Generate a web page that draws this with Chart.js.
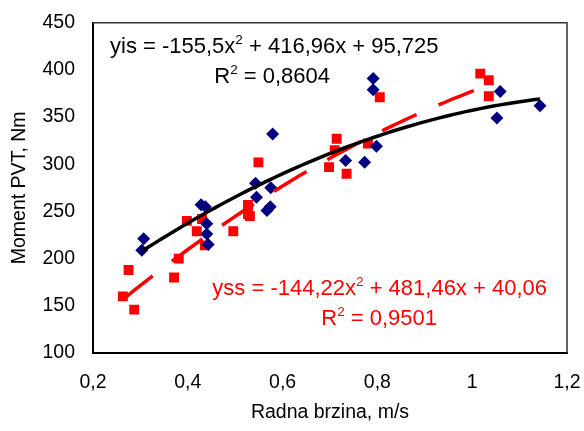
<!DOCTYPE html>
<html>
<head>
<meta charset="utf-8">
<script src="https://cdn.jsdelivr.net/npm/chart.js@4/dist/chart.umd.min.js"></script>
<style>
  html, body { margin: 0; padding: 0; background: #ffffff; }
  #wrap { width: 584px; height: 431px; }
</style>
</head>
<body>
<div id="wrap"><canvas id="chart" width="584" height="431"></canvas></div>
<script>
// ===== DATA =====
// yis - blue diamonds
var yisX = [0.307, 0.303, 0.428, 0.437, 0.440, 0.440, 0.443, 0.543, 0.545, 0.567, 0.574, 0.575, 0.579, 0.733, 0.773, 0.791, 0.791, 0.798, 1.052, 1.059, 1.143];
var yisY = [221, 209, 257, 255, 237, 226, 215, 280, 265, 251, 255, 275, 332, 304, 302, 391, 379, 319, 349, 377, 362];
// yss - red squares
var yssX = [0.263, 0.275, 0.287, 0.371, 0.381, 0.398, 0.419, 0.430, 0.436, 0.496, 0.527, 0.527, 0.531, 0.549, 0.698, 0.710, 0.714, 0.735, 0.780, 0.805, 1.017, 1.035, 1.035];
var yssY = [160, 188, 146, 180, 200, 240, 229, 242, 214, 229, 257, 247, 245, 302, 297, 315, 327, 290, 322, 371, 396, 389, 372];

// trend line coefficients (a, b, c) as printed on the chart
var yisCoef = [-155.5, 416.96, 95.725];
var yssCoef = [-144.22, 481.46, 40.06];

var xTicks = [0.2, 0.4, 0.6, 0.8, 1, 1.2];
var yTicks = [100, 150, 200, 250, 300, 350, 400, 450];

var FONT = "'Liberation Sans', Arial, sans-serif";

// ===== HELPERS =====
function toPoints(xs, ys) {
    return xs.map(function (x, i) { return { x: x, y: ys[i] }; });
}

// trend curve from the printed polynomial, between the extreme x of its series
function trendPoints(coef, xs) {
    var lo = Math.min.apply(null, xs), hi = Math.max.apply(null, xs);
    var pts = [];
    for (var i = 0; i <= 60; i++) {
        var x = lo + (hi - lo) * i / 60;
        pts.push({ x: x, y: coef[0] * x * x + coef[1] * x + coef[2] });
    }
    return pts;
}

function fmt(v) {
    return String(v).replace('.', ',');
}

// parts: [text, isSup]
function drawParts(ctx, parts, x, y, align, color) {
    var big = '22px ' + FONT, small = '13.5px ' + FONT;
    var w = 0;
    parts.forEach(function (p) {
        ctx.font = p[1] ? small : big;
        w += ctx.measureText(p[0]).width;
    });
    var cx = align === 'right' ? x - w : x;
    ctx.fillStyle = color;
    ctx.textBaseline = 'alphabetic';
    ctx.textAlign = 'left';
    parts.forEach(function (p) {
        ctx.font = p[1] ? small : big;
        ctx.fillText(p[0], cx, p[1] ? y - 9 : y);
        cx += ctx.measureText(p[0]).width;
    });
}

var labelsPlugin = {
    id: 'eqLabels',
    afterDraw: function (chart) {
        var ctx = chart.ctx;
        ctx.save();
        drawParts(ctx, [['yis = ' + fmt(yisCoef[0]) + 'x'], ['2', 1], [' + ' + fmt(yisCoef[1]) + 'x + ' + fmt(yisCoef[2])]], 110, 53, 'left', '#000000');
        drawParts(ctx, [['R'], ['2', 1], [' = 0,8604']], 330, 83, 'right', '#000000');
        drawParts(ctx, [['yss = ' + fmt(yssCoef[0]) + 'x'], ['2', 1], [' + ' + fmt(yssCoef[1]) + 'x + ' + fmt(yssCoef[2])]], 547, 295, 'right', '#ff0000');
        drawParts(ctx, [['R'], ['2', 1], [' = 0,9501']], 437, 325, 'right', '#ff0000');
        // frame on top and right
        var a = chart.chartArea;
        ctx.strokeStyle = '#333333';
        ctx.lineWidth = 1.5;
        ctx.beginPath();
        ctx.moveTo(a.left, a.top);
        ctx.lineTo(a.right, a.top);
        ctx.lineTo(a.right, a.bottom);
        ctx.stroke();
        ctx.restore();
    }
};

// ===== CHART =====
new Chart(document.getElementById('chart'), {
    type: 'scatter',
    data: {
        datasets: [
            {
                label: 'yis trend',
                type: 'line',
                data: trendPoints(yisCoef, yisX),
                borderColor: '#000000',
                borderWidth: 3.5,
                pointRadius: 0,
                fill: false,
                order: 0
            },
            {
                label: 'yss trend',
                type: 'line',
                data: trendPoints(yssCoef, yssX),
                borderColor: '#ff0000',
                borderWidth: 3.5,
                borderDash: [38, 24],
                pointRadius: 0,
                fill: false,
                order: 0
            },
            {
                label: 'yis',
                data: toPoints(yisX, yisY),
                pointStyle: 'rectRot',
                pointRadius: 6.5,
                backgroundColor: '#000080',
                borderColor: '#000080',
                borderWidth: 0,
                order: 1
            },
            {
                label: 'yss',
                data: toPoints(yssX, yssY),
                pointStyle: 'rect',
                pointRadius: 7,
                backgroundColor: '#ff0000',
                borderColor: '#ff0000',
                borderWidth: 0,
                order: 1
            }
        ]
    },
    options: {
        responsive: false,
        animation: false,
        layout: { padding: { top: 21, right: 17, left: 0, bottom: 0 } },
        plugins: { legend: { display: false }, tooltip: { enabled: false } },
        scales: {
            x: {
                type: 'linear',
                min: 0.2,
                max: 1.2,
                afterBuildTicks: function (axis) {
                    axis.ticks = xTicks.map(function (v) { return { value: v }; });
                },
                afterFit: function (axis) {
                    axis.height = 78;
                    axis.paddingRight = 7;
                },
                grid: { display: false, drawOnChartArea: false, drawTicks: true, tickLength: 7, tickColor: '#000000' },
                border: { display: true, color: '#000000', width: 2 },
                ticks: {
                    color: '#000000',
                    font: { family: FONT, size: 19.5 },
                    padding: 11,
                    maxRotation: 0,
                    callback: function (v) { return fmt(v); }
                },
                title: {
                    display: true,
                    text: 'Radna brzina, m/s',
                    color: '#000000',
                    font: { family: FONT, size: 19.5 },
                    padding: { top: 4, bottom: 7 }
                }
            },
            y: {
                type: 'linear',
                min: 100,
                max: 450,
                afterBuildTicks: function (axis) {
                    axis.ticks = yTicks.map(function (v) { return { value: v }; });
                },
                afterFit: function (axis) { axis.width = 93; },
                grid: { display: false, drawOnChartArea: false, drawTicks: true, tickLength: 7, tickColor: '#000000' },
                border: { display: true, color: '#000000', width: 2 },
                ticks: {
                    color: '#000000',
                    font: { family: FONT, size: 19.5 },
                    padding: 11
                },
                title: {
                    display: true,
                    text: 'Moment PVT, Nm',
                    color: '#000000',
                    font: { family: FONT, size: 19.5 },
                    padding: { top: 8, bottom: 8 }
                }
            }
        }
    },
    plugins: [labelsPlugin]
});
</script>
</body>
</html>
